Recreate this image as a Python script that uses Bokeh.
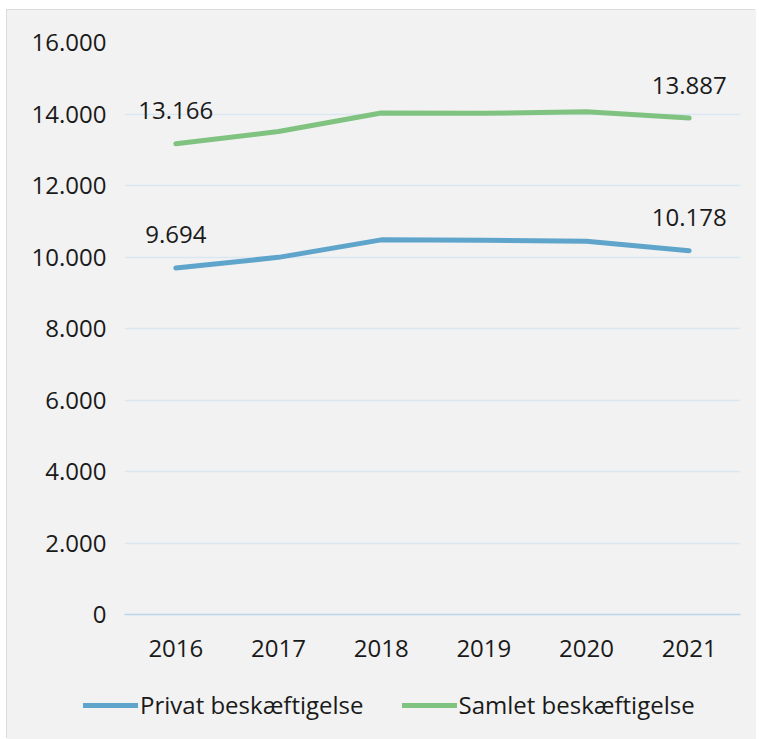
from bokeh.plotting import figure
from bokeh.layouts import column
from bokeh.models import Range1d, Legend, LegendItem, ColumnDataSource, FixedTicker, CustomJSTickFormatter
from bokeh.core.properties import value
from bokeh.embed import file_html
from bokeh.resources import INLINE

years = ["2016", "2017", "2018", "2019", "2020", "2021"]
privat = [9694, 9990, 10480, 10470, 10440, 10178]
samlet = [13166, 13510, 14030, 14020, 14060, 13887]
y_ticks = [0, 2000, 4000, 6000, 8000, 10000, 12000, 14000, 16000]
label_years = ["2016", "2021"]
label_privat = [9694, 10178]
label_samlet = [13166, 13887]
series_names = ["Privat beskæftigelse", "Samlet beskæftigelse"]

FONT = "Open Sans"
FS = "24px"
BLUE = "#5fa5cb"
GREEN = "#80c381"
BG = "#f2f2f2"
TXT = "#1a1a1a"

p = figure(width=749, height=662, x_range=years, y_range=Range1d(0, 16000),
           output_backend="svg", toolbar_location=None,
           min_border_left=117, min_border_right=16, min_border_top=32, min_border_bottom=58)
p.frame_align = False
p.background_fill_color = BG
p.border_fill_color = BG
p.outline_line_color = None

p.xgrid.grid_line_color = None
p.ygrid.grid_line_color = "#dce8f1"
p.ygrid.grid_line_width = 1.5
p.ygrid.ticker = FixedTicker(ticks=y_ticks)

p.yaxis.ticker = FixedTicker(ticks=y_ticks)
p.yaxis.formatter = CustomJSTickFormatter(code="return tick.toString().replace(/\\B(?=(\\d{3})+(?!\\d))/g, '.');")
p.yaxis.axis_line_color = None
p.yaxis.major_tick_line_color = None
p.yaxis.minor_tick_line_color = None
p.yaxis.major_label_standoff = 12
p.xaxis.axis_line_color = "#b9d7e9"
p.xaxis.axis_line_width = 1.5
p.xaxis.major_tick_line_color = None
p.xaxis.minor_tick_line_color = None
p.xaxis.major_label_standoff = 19
for ax in (p.xaxis, p.yaxis):
    ax.major_label_text_font = FONT
    ax.major_label_text_font_size = FS
    ax.major_label_text_color = TXT

p.line(years, privat, line_color=BLUE, line_width=5, line_cap="round", line_join="round")
p.line(years, samlet, line_color=GREEN, line_width=5, line_cap="round", line_join="round")

def fmt(v):
    return f"{v:,}".replace(",", ".")

src = ColumnDataSource(dict(x=label_years + label_years,
                            y=label_privat + label_samlet,
                            t=[fmt(v) for v in label_privat + label_samlet]))
p.text(x="x", y="y", text="t", source=src, text_align="center", text_baseline="middle",
       y_offset=-33, text_font=value(FONT), text_font_size=FS, text_color=TXT)

# legend strip
p2 = figure(width=749, height=67, x_range=Range1d(0, 1), y_range=Range1d(0, 1),
            output_backend="svg", toolbar_location=None,
            min_border_left=0, min_border_right=0, min_border_top=0, min_border_bottom=0)
p2.frame_align = False
p2.axis.visible = False
p2.grid.grid_line_color = None
p2.background_fill_color = BG
p2.border_fill_color = BG
p2.outline_line_color = None
nan = float("nan")
l1 = p2.line(x=[nan], y=[nan], line_color=BLUE, line_width=5, line_cap="round")
l2 = p2.line(x=[nan], y=[nan], line_color=GREEN, line_width=5, line_cap="round")
legend = Legend(items=[LegendItem(label=series_names[0], renderers=[l1]),
                       LegendItem(label=series_names[1], renderers=[l2])],
                orientation="horizontal", location=(76, 18))
legend.background_fill_alpha = 0
legend.border_line_color = None
legend.label_text_font = FONT
legend.label_text_font_size = FS
legend.label_text_color = TXT
legend.glyph_width = 55
legend.label_standoff = 2
legend.spacing = 38
legend.padding = 0
legend.margin = 0
p2.add_layout(legend, "center")

layout = column(p, p2, spacing=0)
layout.margin = (10, 0, 0, 7)
layout.styles = {"background-color": BG, "box-shadow": "-1px -1px 0 #dcdcdc"}
open("out.html", "w").write(file_html(layout, INLINE))
